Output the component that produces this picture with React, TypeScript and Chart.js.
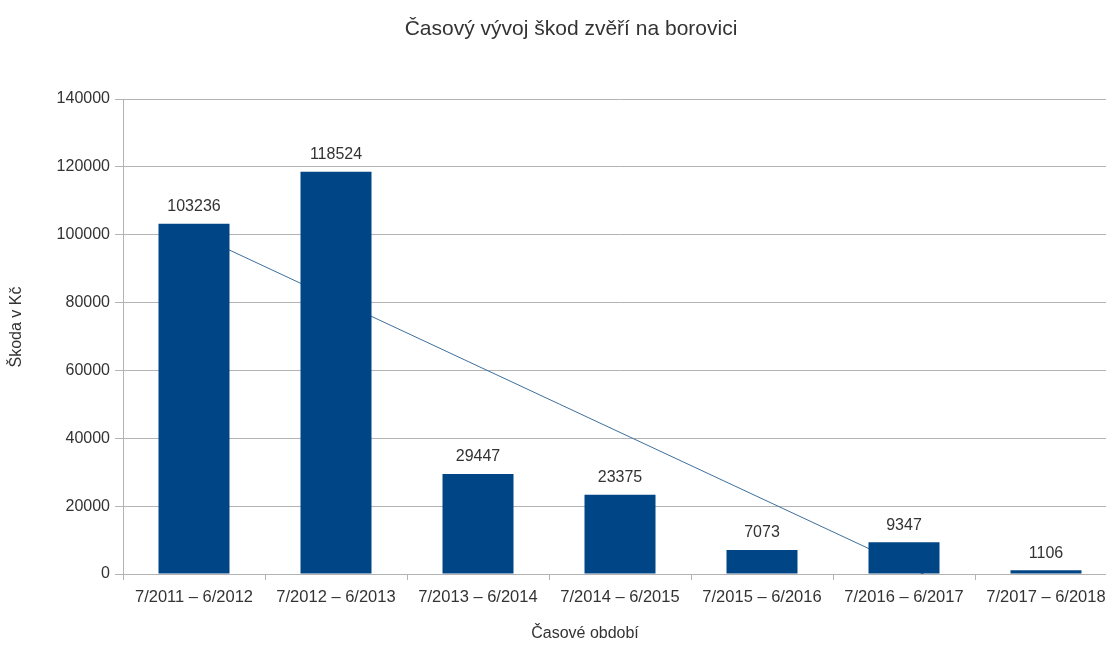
import React, { useEffect, useRef } from "react";
import { Chart, registerables } from "chart.js";

Chart.register(...registerables);

const chartTitle = "Časový vývoj škod zvěří na borovici";
const xAxisTitle = "Časové období";
const yAxisTitle = "Škoda v Kč";

const periods = [
  "7/2011 – 6/2012",
  "7/2012 – 6/2013",
  "7/2013 – 6/2014",
  "7/2014 – 6/2015",
  "7/2015 – 6/2016",
  "7/2016 – 6/2017",
  "7/2017 – 6/2018",
];

const damage = [103236, 118524, 29447, 23375, 7073, 9347, 1106];

const yTicks = [0, 20000, 40000, 60000, 80000, 100000, 120000, 140000];

const FONT = "'Liberation Sans', Arial, sans-serif";
const TEXT = "#333333";
const GRID = "#b3b3b3";
const BAR = "#004586";
const TREND = "#3d6f9e";

// Least-squares linear trend over the period index, evaluated at both ends.
function linearTrend(values: number[]): (number | null)[] {
  const n = values.length;
  const mx = (n - 1) / 2;
  const my = values.reduce((a, b) => a + b, 0) / n;
  let sxy = 0;
  let sxx = 0;
  values.forEach((v, i) => {
    sxy += (i - mx) * (v - my);
    sxx += (i - mx) * (i - mx);
  });
  const slope = sxy / sxx;
  const icpt = my - slope * mx;
  return values.map((_, i) => (i === 0 || i === n - 1 ? icpt + slope * i : null));
}

const valueLabels = {
  id: "valueLabels",
  afterDatasetsDraw(chart: any) {
    const meta = chart.getDatasetMeta(0);
    const ctx = chart.ctx;
    ctx.save();
    ctx.font = `16px ${FONT}`;
    ctx.fillStyle = TEXT;
    ctx.textAlign = "center";
    ctx.textBaseline = "middle";
    meta.data.forEach((bar: any, i: number) => {
      ctx.fillText(String(damage[i]), bar.x, bar.y - 17);
    });
    ctx.restore();
  },
};

const titles = {
  id: "titles",
  afterDraw(chart: any) {
    const ctx = chart.ctx;
    ctx.save();
    ctx.fillStyle = TEXT;
    ctx.textAlign = "center";
    ctx.textBaseline = "middle";
    ctx.font = `21px ${FONT}`;
    ctx.fillText(chartTitle, 571, 29);
    ctx.font = `16px ${FONT}`;
    ctx.fillText(xAxisTitle, 585, 634);
    ctx.translate(17, 327);
    ctx.rotate(-Math.PI / 2);
    ctx.fillText(yAxisTitle, 0, 0);
    ctx.restore();
  },
};

export default function App() {
  const canvasRef = useRef<HTMLCanvasElement | null>(null);

  useEffect(() => {
    if (!canvasRef.current) return;
    const chart = new Chart(canvasRef.current, {
      type: "bar",
      data: {
        labels: periods,
        datasets: [
          {
            type: "bar",
            data: damage,
            backgroundColor: BAR,
            borderWidth: 0,
            categoryPercentage: 1,
            barPercentage: 0.5,
          },
          {
            type: "line",
            data: linearTrend(damage),
            borderColor: TREND,
            borderWidth: 1,
            pointRadius: 0,
            spanGaps: true,
            fill: false,
          } as any,
        ],
      },
      options: {
        responsive: false,
        animation: false,
        devicePixelRatio: 1,
        layout: { padding: { top: 99, right: 25, left: 0, bottom: 0 } },
        plugins: {
          legend: { display: false },
          title: { display: false },
          tooltip: { enabled: false },
        },
        scales: {
          x: {
            type: "category",
            offset: true,
            grid: {
              offset: true,
              drawOnChartArea: false,
              drawTicks: true,
              tickLength: 6,
              color: GRID,
            },
            border: { display: true, color: GRID },
            ticks: {
              color: TEXT,
              font: { family: FONT, size: 16.5 },
              padding: 8,
              maxRotation: 0,
              autoSkip: false,
            },
            afterFit(scale: any) {
              scale.height = 72;
            },
          },
          y: {
            min: 0,
            max: 140000,
            afterBuildTicks(scale: any) {
              scale.ticks = yTicks.map((v) => ({ value: v }));
            },
            grid: { color: GRID, tickLength: 8 },
            border: { display: true, color: GRID },
            ticks: {
              color: TEXT,
              font: { family: FONT, size: 16 },
              padding: 5,
              callback: (v: any) => String(v),
            },
            afterFit(scale: any) {
              scale.width = 123;
            },
          },
        },
      },
      plugins: [valueLabels, titles],
    });
    return () => chart.destroy();
  }, []);

  return (
    <canvas
      ref={canvasRef}
      width={1142}
      height={646}
      style={{ position: "fixed", left: 0, top: 0, display: "block", background: "#ffffff" }}
    />
  );
}
